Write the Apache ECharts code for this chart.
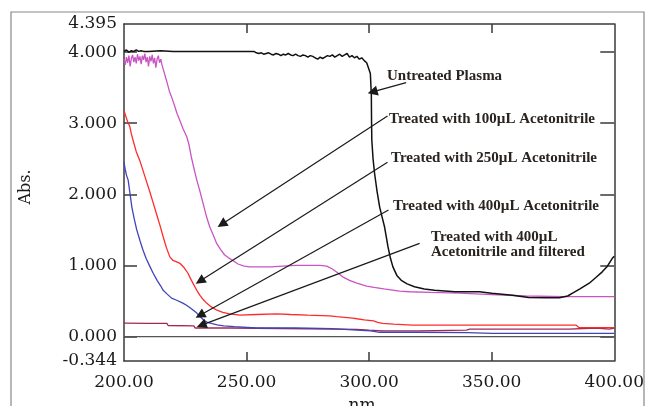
<!DOCTYPE html>
<html>
<head>
<meta charset="utf-8">
<script src="https://cdn.jsdelivr.net/npm/echarts@6/dist/echarts.min.js"></script>
<style>html,body{margin:0;padding:0;background:#fff}#c{width:647px;height:406px}</style>
</head>
<body>
<div id="c"></div>
<script>
// ---- data (wavelength nm, absorbance) ----
const untreatedX = [200,201,202,203,204,205,206,207,208,210,215,220,225,230,235,240,245,250,253,254,255,256,257,258,259,260,261,262,263,264,265,266,267,268,269,270,271,272,273,274,275,276,277,278,279,280,281,282,283,284,285,286,287,288,289,290,291,292,293,294,295,296,297,298,299,299.5,300.5,300.9,301.0,301.1,301.6,302.2,303.2,304.3,305.3,306.3,307.0,307.7,308.7,309.7,311.3,313.1,315.5,318.5,322.5,326.7,335,345,350,358.5,365,372,377.6,381,383,386,389.8,392.5,395.1,397.2,399.2,400];
const untreatedY = [4.01,4.03,4.00,4.02,4.01,4.03,4.01,4.02,4.01,4.01,4.02,4.01,4.01,4.01,4.01,4.01,4.01,4.01,4.01,3.99,3.98,3.99,3.97,3.98,3.99,3.97,3.96,3.98,3.97,3.95,3.97,3.96,3.98,3.96,3.95,3.97,3.95,3.94,3.96,3.95,3.93,3.95,3.94,3.92,3.90,3.93,3.91,3.93,3.95,3.94,3.96,3.93,3.95,3.97,3.94,3.96,3.98,3.93,3.95,3.92,3.94,3.90,3.92,3.88,3.85,3.80,3.70,3.40,3.00,2.76,2.50,2.30,2.05,1.82,1.68,1.54,1.40,1.26,1.10,0.98,0.86,0.79,0.74,0.70,0.67,0.65,0.63,0.63,0.61,0.58,0.55,0.545,0.545,0.57,0.61,0.67,0.75,0.83,0.91,0.99,1.10,1.13];

const t100X = [200,200.5,201,201.5,202,202.5,203,203.5,204,204.5,205,205.5,206,206.5,207,207.5,208,208.5,209,209.5,210,210.5,211,211.5,212,212.5,213,213.5,214,214.5,215,215.5,216.5,217.5,218.5,219.5,220.5,221.6,223,224,225.6,226.5,227.5,228.5,229.7,231,232.5,233.7,235,236.5,237.8,239.5,241,242.5,244.4,246.5,249,251.3,255,260,264.8,270,275,280,282.7,285,287,289.2,292,295,299,302,306,312.4,316.5,325,336.9,350,364,380,390,400];
const t100Y = [3.90,3.82,3.93,3.85,3.95,3.80,3.91,3.96,3.86,3.93,3.84,3.97,3.88,3.94,3.83,3.95,3.89,3.98,3.86,3.93,3.80,3.94,3.87,3.96,3.84,3.92,3.78,3.90,3.95,3.85,3.90,3.82,3.70,3.58,3.45,3.36,3.26,3.14,3.02,2.93,2.81,2.70,2.52,2.37,2.20,2.04,1.84,1.68,1.54,1.42,1.31,1.22,1.15,1.11,1.07,1.02,0.99,0.98,0.98,0.98,0.99,1.00,1.00,1.00,0.99,0.95,0.90,0.84,0.79,0.75,0.71,0.69,0.67,0.64,0.63,0.62,0.61,0.59,0.57,0.56,0.56,0.56];

const t250X = [200,200.7,201.5,202.4,203,203.7,205,206.5,207.7,209,210.5,211.9,213.3,214.7,216,217.3,218.7,220,221.5,222.8,224.5,226.1,227.5,228.6,229.7,231,232.3,233.7,235.5,237.9,240.3,243,247.3,254,262.3,268,275,283.9,286.8,290,293.3,295,298,301.8,303.5,305.5,310,317.7,330,350,370,384.5,385.7,400];
const t250Y = [3.18,3.10,3.02,2.95,2.85,2.76,2.60,2.47,2.34,2.20,2.04,1.88,1.72,1.56,1.40,1.25,1.12,1.07,1.05,1.03,0.97,0.89,0.79,0.72,0.65,0.58,0.52,0.47,0.42,0.37,0.34,0.32,0.30,0.31,0.32,0.31,0.30,0.29,0.28,0.27,0.26,0.25,0.235,0.22,0.20,0.185,0.175,0.16,0.16,0.16,0.16,0.16,0.125,0.125];

const t400X = [200,200.5,201,201.7,202.5,203.2,204.2,205.2,206.5,207.7,209,210.5,211.9,213.5,215,216,217.5,219.4,221.5,224,225.5,227.5,229.7,231,232.6,234,236,238,240.7,245,254,258.2,270,285,295,300.6,304.3,320,340,350.3,400];
const t400Y = [2.45,2.35,2.27,2.20,2.00,1.82,1.65,1.50,1.35,1.22,1.10,0.99,0.89,0.79,0.71,0.65,0.60,0.54,0.51,0.47,0.44,0.39,0.33,0.28,0.23,0.20,0.18,0.165,0.15,0.14,0.12,0.12,0.12,0.11,0.09,0.08,0.06,0.06,0.055,0.045,0.045];

const filtX = [200,210,217.5,218,228.5,229,243.6,244,295,300,305.5,320,339.7,341,381.7,382,392.7,393,398,398.5,400];
const filtY = [0.19,0.185,0.185,0.155,0.15,0.12,0.12,0.105,0.10,0.09,0.08,0.08,0.09,0.105,0.105,0.12,0.12,0.105,0.105,0.12,0.12];

// axis ticks / labels
const yLabelValues = [-0.344, 0, 1, 2, 3, 4, 4.395];
const yTickValues = [0, 1, 2, 3, 4];
const xLabelValues = [200, 250, 300, 350, 400];
const xTickValues = [250, 300, 350];

// annotation arrows (data coords): [from, to]
const arrows = [
  [[315.1, 3.57], [301.4, 3.44]],
  [[307.5, 3.10], [239.9, 1.58]],
  [[307.5, 2.45], [231.0, 0.78]],
  [[307.9, 1.78], [231.0, 0.30]],
  [[320.6, 1.31], [231.6, 0.16]]
];
const annotations = [
  ['Untreated Plasma', 387, 76],
  ['Treated with 100µL Acetonitrile', 389, 119],
  ['Treated with 250µL Acetonitrile', 391, 158],
  ['Treated with 400µL Acetonitrile', 393, 206],
  ['Treated with 400µL', 431, 237],
  ['Acetonitrile and filtered', 431, 252]
];

function pairs(xs, ys) { return xs.map((x, i) => [x, ys[i]]); }

const axisCol = '#3a3a3a';
const tickFont = { fontFamily: 'DejaVu Serif', fontSize: 17, color: '#1a1a1a' };

const chart = echarts.init(document.getElementById('c'), null, { renderer: 'canvas' });

function mkLine(name, xs, ys, color, w) {
  return {
    name, type: 'line', data: pairs(xs, ys), showSymbol: false, symbol: 'none',
    lineStyle: { color, width: w }, itemStyle: { color }, z: 3, silent: true
  };
}

const option = {
  animation: false,
  backgroundColor: '#fff',
  grid: { left: 124, top: 24, right: 32, bottom: 45, containLabel: false },
  xAxis: [
    {
      type: 'value', min: 200, max: 400, position: 'bottom',
      axisLine: { show: true, onZero: false, lineStyle: { color: axisCol, width: 1.5 } },
      axisTick: { show: true, inside: true, length: 9, customValues: xTickValues, lineStyle: { color: axisCol, width: 1.5 } },
      axisLabel: Object.assign({ show: true, margin: 13, customValues: xLabelValues, formatter: v => v.toFixed(2) }, tickFont),
      splitLine: { show: false }
    },
    {
      type: 'value', min: 200, max: 400, position: 'top',
      axisLine: { show: true, onZero: false, lineStyle: { color: axisCol, width: 1.5 } },
      axisTick: { show: true, inside: true, length: 9, customValues: xTickValues, lineStyle: { color: axisCol, width: 1.5 } },
      axisLabel: { show: false },
      splitLine: { show: false }
    }
  ],
  yAxis: [
    {
      type: 'value', min: -0.344, max: 4.395, position: 'left',
      axisLine: { show: true, onZero: false, lineStyle: { color: axisCol, width: 1.5 } },
      axisTick: { show: true, inside: true, length: 13, customValues: yTickValues, lineStyle: { color: axisCol, width: 1.5 } },
      axisLabel: Object.assign({ show: true, margin: 7, customValues: yLabelValues, formatter: v => v.toFixed(3) }, tickFont),
      splitLine: { show: false }
    },
    {
      type: 'value', min: -0.344, max: 4.395, position: 'right',
      axisLine: { show: true, onZero: false, lineStyle: { color: axisCol, width: 1.5 } },
      axisTick: { show: true, inside: true, length: 14, customValues: yTickValues, lineStyle: { color: axisCol, width: 1.5 } },
      axisLabel: { show: false },
      splitLine: { show: false }
    }
  ],
  series: [
    { name: 'zero', type: 'line', data: [[200, 0], [400, 0]], showSymbol: false, symbol: 'none',
      lineStyle: { color: '#555', width: 1.2 }, z: 2, silent: true },
    mkLine('Treated with 400µL Acetonitrile and filtered', filtX, filtY, '#a3284f', 1.3),
    mkLine('Treated with 400µL Acetonitrile', t400X, t400Y, '#3f45b8', 1.3),
    mkLine('Treated with 250µL Acetonitrile', t250X, t250Y, '#ff2b2b', 1.3),
    mkLine('Treated with 100µL Acetonitrile', t100X, t100Y, '#c955c4', 1.3),
    mkLine('Untreated Plasma', untreatedX, untreatedY, '#111111', 1.5),
    {
      name: 'arrows', type: 'line', data: [], silent: true, z: 4,
      markLine: {
        silent: true, animation: false,
        symbol: ['none', 'triangle'], symbolSize: 10,
        label: { show: false },
        lineStyle: { color: '#1a1a1a', width: 1.2, type: 'solid' },
        emphasis: { disabled: true },
        data: arrows.map(a => [{ coord: a[0] }, { coord: a[1] }])
      }
    }
  ],
  graphic: [
    { type: 'rect', shape: { x: 11, y: 12, width: 633, height: 420 }, style: { fill: 'none', stroke: '#888', lineWidth: 1.2 }, silent: true, z: 0 },
    { type: 'text', x: 26, y: 187, rotation: Math.PI / 2,
      style: { text: 'Abs.', fontFamily: 'DejaVu Serif', fontSize: 16, fill: '#1a1a1a', align: 'center', verticalAlign: 'middle' } },
    { type: 'text', x: 362, y: 397,
      style: { text: 'nm', fontFamily: 'DejaVu Serif', fontSize: 17, fill: '#1a1a1a', align: 'center', verticalAlign: 'top' } }
  ].concat(annotations.map(a => ({
    type: 'text', x: a[1], y: a[2], z: 10,
    style: { text: a[0], fontFamily: 'Liberation Serif', fontWeight: 'bold', fontSize: 15, fill: '#2a2420', align: 'left', verticalAlign: 'middle' }
  })))
};
chart.setOption(option);
</script>
</body>
</html>
